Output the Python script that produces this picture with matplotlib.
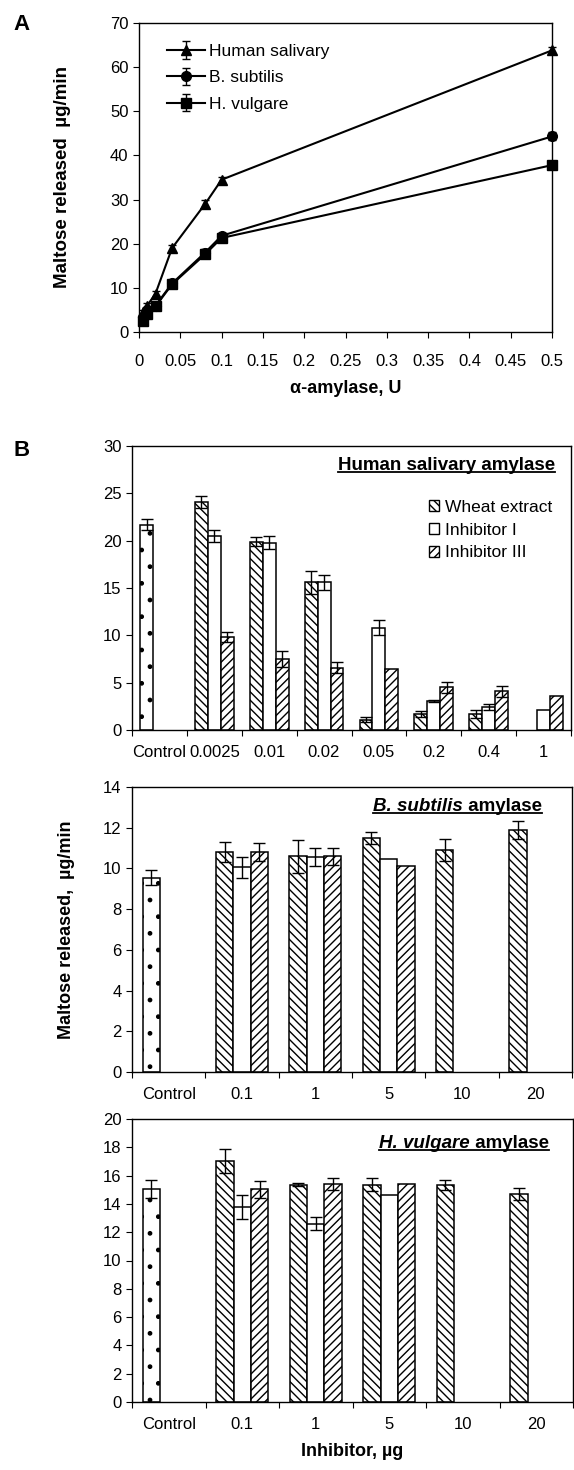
import matplotlib

matplotlib.use("Agg")
import matplotlib.pyplot as plt
import numpy as np
from matplotlib.lines import Line2D
from matplotlib.patches import Patch
from matplotlib.ticker import FixedLocator, FuncFormatter, MultipleLocator

nan = np.nan

# ---- panel A: maltose released vs alpha-amylase units ----
units = [0.005, 0.01, 0.02, 0.04, 0.08, 0.1, 0.5]
human_salivary = [4.5, 6.0, 8.7, 19.0, 29.0, 34.5, 63.8]
human_salivary_err = [0.5, 0.6, 0.6, 0.8, 0.8, 0.7, 0.8]
b_subtilis = [3.5, 5.0, 6.0, 11.0, 18.0, 21.8, 44.3]
b_subtilis_err = [0.5, 0.5, 0.6, 0.7, 0.8, 0.6, 0.9]
h_vulgare = [2.5, 4.0, 5.8, 10.8, 17.6, 21.3, 37.8]
h_vulgare_err = [0.6, 0.5, 0.5, 0.8, 0.9, 0.6, 0.9]

# ---- panel B, top: human salivary amylase ----
hs_doses = ["Control", "0.0025", "0.01", "0.02", "0.05", "0.2", "0.4", "1"]
hs_control, hs_control_err = 21.7, 0.6
hs_wheat = [24.1, 19.9, 15.6, 1.1, 1.7, 1.7, nan]
hs_wheat_err = [0.6, 0.5, 1.2, 0.3, 0.3, 0.4, nan]
hs_inh1 = [20.5, 19.8, 15.6, 10.8, 3.1, 2.4, 2.1]
hs_inh1_err = [0.6, 0.7, 0.8, 0.8, 0.1, 0.3, nan]
hs_inh3 = [9.8, 7.5, 6.6, 6.4, 4.5, 4.1, 3.6]
hs_inh3_err = [0.5, 0.8, 0.6, nan, 0.6, 0.6, nan]

# ---- panel B, middle: B. subtilis amylase ----
bs_doses = ["Control", "0.1", "1", "5", "10", "20"]
bs_control, bs_control_err = 9.55, 0.37
bs_wheat = [10.8, 10.6, 11.5, 10.9, 11.9]
bs_wheat_err = [0.5, 0.8, 0.3, 0.55, 0.45]
bs_inh1 = [10.05, 10.55, 10.45, nan, nan]
bs_inh1_err = [0.5, 0.45, nan, nan, nan]
bs_inh3 = [10.8, 10.6, 10.1, nan, nan]
bs_inh3_err = [0.45, 0.42, nan, nan, nan]

# ---- panel B, bottom: H. vulgare amylase ----
hv_doses = ["Control", "0.1", "1", "5", "10", "20"]
hv_control, hv_control_err = 15.05, 0.65
hv_wheat = [17.0, 15.35, 15.35, 15.35, 14.7]
hv_wheat_err = [0.85, 0.1, 0.45, 0.35, 0.4]
hv_inh1 = [13.8, 12.6, 14.65, nan, nan]
hv_inh1_err = [0.85, 0.45, nan, nan, nan]
hv_inh3 = [15.05, 15.4, 15.4, nan, nan]
hv_inh3_err = [0.6, 0.42, nan, nan, nan]

series_labels = ["Wheat extract", "Inhibitor I", "Inhibitor III"]

plt.rcParams.update(
    {
        "font.family": ["Liberation Sans", "DejaVu Sans"],
        "font.size": 12,
        "axes.linewidth": 1.0,
        "hatch.linewidth": 1.0,
        "xtick.major.size": 4,
        "ytick.major.size": 4,
        "xtick.direction": "out",
        "ytick.direction": "out",
        "xtick.labelsize": 12,
        "ytick.labelsize": 12,
    }
)

W, H = 574, 1470
fig = plt.figure(figsize=(W / 100.0, H / 100.0), dpi=100)


def px_axes(left, top, right, bottom):
    return fig.add_axes([left / W, 1 - bottom / H, (right - left) / W, (bottom - top) / H])


# ================= panel A =================
axA = px_axes(139, 23, 552, 332)
for ys, es, mk, lab in [
    (human_salivary, human_salivary_err, "^", "Human salivary"),
    (b_subtilis, b_subtilis_err, "o", "B. subtilis"),
    (h_vulgare, h_vulgare_err, "s", "H. vulgare"),
]:
    axA.errorbar(units, ys, yerr=es, color="black", lw=1.5, marker=mk, ms=7,
                 capsize=3, elinewidth=1, label=lab, clip_on=False, zorder=3)
axA.set_xlim(0, 0.5)
axA.set_ylim(0, 70)
axA.xaxis.set_major_locator(MultipleLocator(0.05))
axA.xaxis.set_major_formatter(FuncFormatter(lambda v, p: f"{round(v, 3):g}"))
axA.yaxis.set_major_locator(MultipleLocator(10))
axA.tick_params(axis="x", pad=12)
axA.set_xlabel("\u03b1-amylase, U", fontsize=13, fontweight="bold", labelpad=8)
axA.set_ylabel("Maltose released  \u00b5g/min", fontsize=13.5, fontweight="bold")
axA.yaxis.set_label_coords(-0.165, 0.5)
axA.legend(loc="upper left", bbox_to_anchor=(0.05, 0.955), frameon=False,
           handlelength=2.2, handletextpad=0.25, labelspacing=0.65, fontsize=12.5,
           borderaxespad=0)
fig.text(22 / W, 1 - 25 / H, "A", fontsize=16, fontweight="bold", ha="center", va="center")


# ================= panel B helpers =================
W_BAR = 0.235
HATCHES = ["\\\\\\\\", "", "////"]


def bar_panel(ax, doses, control, control_err, series, errs, ymax, ystep):
    n = len(doses)
    ax.bar([-W_BAR], [control], width=W_BAR, facecolor="white", edgecolor="black",
           hatch=".", lw=1.1, zorder=2)
    ax.errorbar([-W_BAR], [control], yerr=[control_err], fmt="none", ecolor="black",
                elinewidth=1, capsize=4, capthick=1, zorder=3)
    cats = np.arange(1, n)
    for k, (vals, ev) in enumerate(zip(series, errs)):
        xs = cats + (k - 1) * W_BAR
        ax.bar(xs, vals, width=W_BAR, facecolor="white", edgecolor="black",
               hatch=HATCHES[k], lw=1.1, zorder=2)
        ax.errorbar(xs, vals, yerr=ev, fmt="none", ecolor="black",
                    elinewidth=1, capsize=4, capthick=1, zorder=3)
    ax.set_xlim(-0.5, n - 0.5)
    ax.set_ylim(0, ymax)
    ax.yaxis.set_major_locator(MultipleLocator(ystep))
    ax.xaxis.set_major_locator(FixedLocator(np.arange(n + 1) - 0.5))
    ax.xaxis.set_major_formatter(FuncFormatter(lambda v, p: ""))
    ax.xaxis.set_minor_locator(FixedLocator(np.arange(n)))
    ax.set_xticklabels(doses, minor=True)
    ax.tick_params(axis="x", which="minor", length=0, pad=11)


def underlined_title(ax, parts, y, x_right):
    # parts laid out right to left, each glued to the previous one
    texts = []
    anchor = None
    for txt, style in reversed(parts):
        if anchor is None:
            t = ax.text(x_right, y, txt, transform=ax.transAxes, ha="right", va="center",
                        fontsize=13.5, fontweight="bold", style=style)
        else:
            t = ax.annotate(txt, xy=(0, 0), xycoords=anchor, ha="right", va="bottom",
                            fontsize=13.5, fontweight="bold", style=style)
        texts.append(t)
        anchor = t
    return texts


# ================= panel B top =================
axB1 = px_axes(132, 446, 571, 730)
bar_panel(axB1, hs_doses, hs_control, hs_control_err,
          [hs_wheat, hs_inh1, hs_inh3], [hs_wheat_err, hs_inh1_err, hs_inh3_err], 30, 5)
handles = [Patch(facecolor="white", edgecolor="black", hatch=h, lw=1.0) for h in HATCHES]
axB1.legend(handles, series_labels, loc="upper left", bbox_to_anchor=(0.66, 0.835),
            frameon=False, handlelength=0.6, handleheight=0.6, handletextpad=0.35,
            labelspacing=0.45, fontsize=12.5, borderaxespad=0)
t_b1 = underlined_title(axB1, [("Human salivary amylase", "normal")], 0.93, 0.964)
fig.text(22 / W, 1 - 450 / H, "B", fontsize=16, fontweight="bold", ha="center", va="center")

# ================= panel B middle =================
axB2 = px_axes(132, 787, 572, 1072)
bar_panel(axB2, bs_doses, bs_control, bs_control_err,
          [bs_wheat, bs_inh1, bs_inh3], [bs_wheat_err, bs_inh1_err, bs_inh3_err], 14, 2)
axB2.set_ylabel("Maltose released,  \u00b5g/min", fontsize=13, fontweight="bold")
axB2.yaxis.set_label_coords(-0.13, 0.5)
t_b2 = underlined_title(axB2, [("B. subtilis", "italic"), (" amylase", "normal")], 0.93, 0.932)

# ================= panel B bottom =================
axB3 = px_axes(132, 1119, 573, 1402)
bar_panel(axB3, hv_doses, hv_control, hv_control_err,
          [hv_wheat, hv_inh1, hv_inh3], [hv_wheat_err, hv_inh1_err, hv_inh3_err], 20, 2)
axB3.set_xlabel("Inhibitor, \u00b5g", fontsize=13, fontweight="bold", labelpad=8)
t_b3 = underlined_title(axB3, [("H. vulgare", "italic"), (" amylase", "normal")], 0.915, 0.945)

# underline the panel titles
fig.canvas.draw()
renderer = fig.canvas.get_renderer()
for group in (t_b1, t_b2, t_b3):
    boxes = [t.get_window_extent(renderer) for t in group]
    x0 = min(b.x0 for b in boxes)
    x1 = max(b.x1 for b in boxes)
    y0 = min(b.y0 for b in boxes) + 2
    fig.add_artist(Line2D([x0 / W, x1 / W], [y0 / H, y0 / H], color="black", lw=1.3,
                          transform=fig.transFigure))

fig.savefig("out.png", dpi=100, facecolor="white")
